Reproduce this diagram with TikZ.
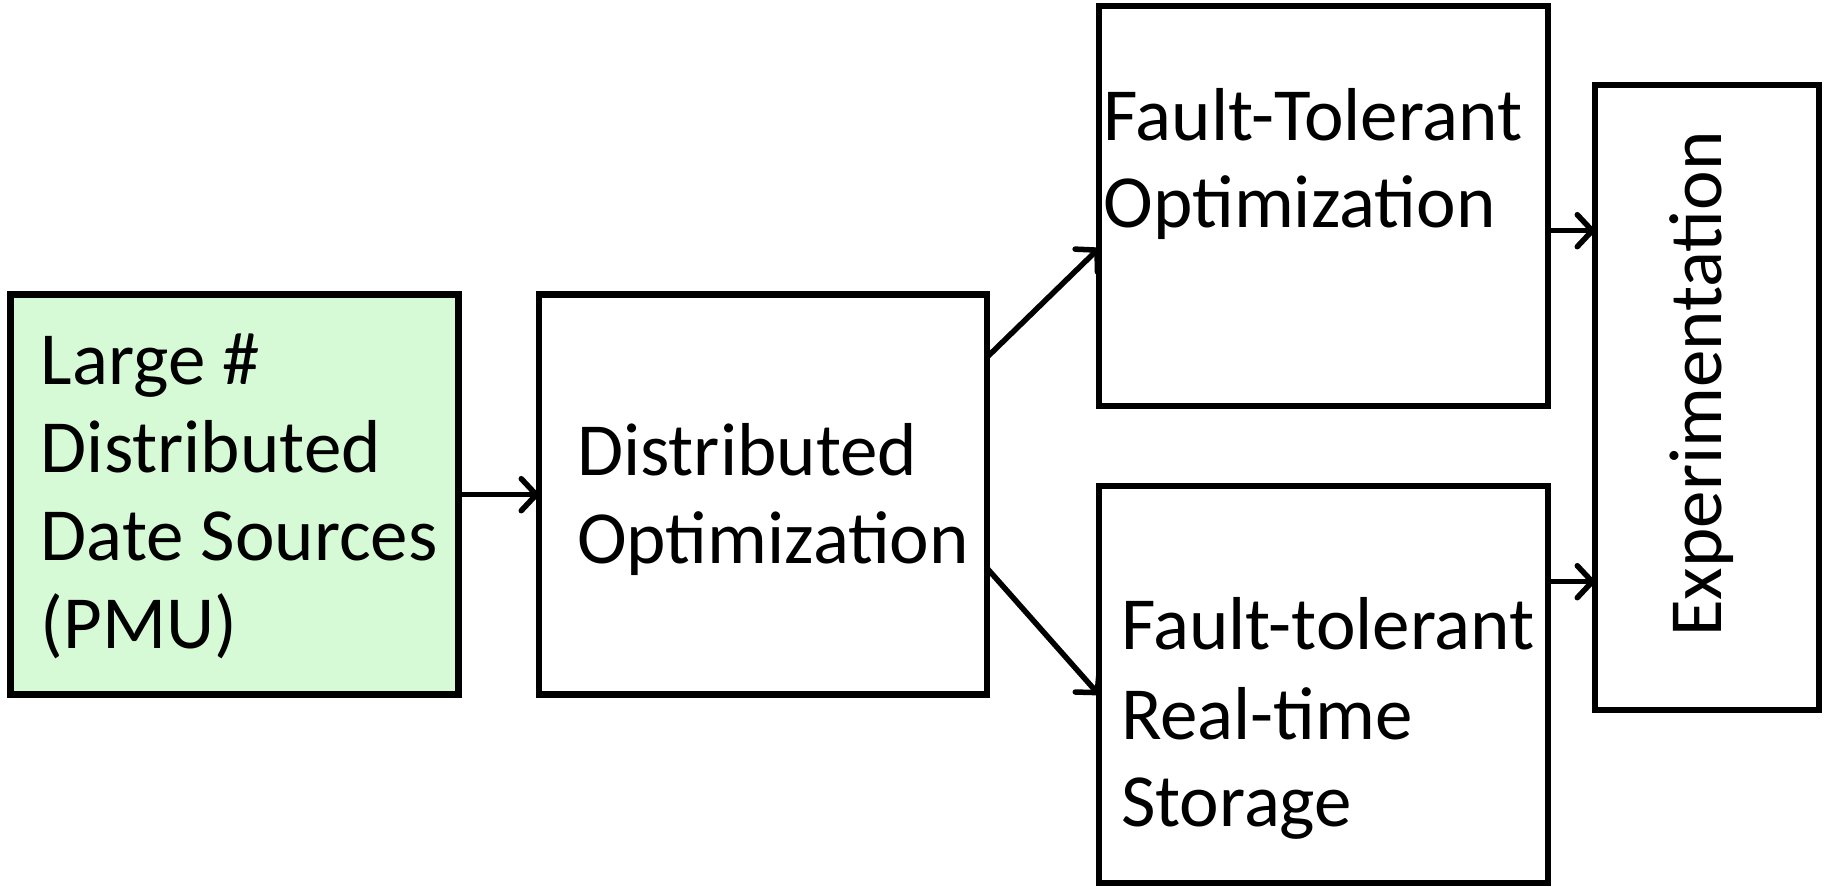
\documentclass[tikz,border=0pt]{standalone}
\usepackage{fontspec}
\setmainfont{Carlito}
\usetikzlibrary{arrows.meta,calc}
\definecolor{srcgreen}{RGB}{214,250,214}
\tikzset{
  box/.style={draw=black, line width=6.5pt, rectangle, inner sep=0pt, outer sep=0pt},
  txt/.style={anchor=base west, inner sep=0pt, outer sep=0pt, font=\fontsize{75}{89}\selectfont},
  conn/.style={line width=5.5pt, line cap=round, -{Straight Barb[length=15pt,width=32pt,round]}}
}
\begin{document}
\begin{tikzpicture}[x=1pt,y=-1pt]
\useasboundingbox (0,0) rectangle (1825,886);
\fill[white] (0,0) rectangle (1825,886);
% boxes
\node[box, fill=srcgreen, minimum width=448pt, minimum height=400pt] (src) at (234.5,494.7) {};
\node[box, minimum width=448pt, minimum height=400pt] (dist) at (763,494.7) {};
\node[box, minimum width=449pt, minimum height=400pt] (fto) at (1323.5,206) {};
\node[box, minimum width=449pt, minimum height=397pt] (fts) at (1323.5,684.7) {};
\node[box, minimum width=224pt, minimum height=625pt] (exp) at (1707,397.5) {};
% texts
\node[txt] (s1) at (40.7,384) {Large \#};
\node[txt] (s2) at (40.7,472) {Distributed};
\node[txt] (s3) at (40.7,560) {Date Sources};
\node[txt] (s4) at (40.7,648) {(PMU)};
\node[txt] (d1) at (577,475) {Distributed};
\node[txt] (d2) at (577,563) {Optimization};
\node[txt] (f1) at (1103.5,140) {Fault-Tolerant};
\node[txt] (f2) at (1103.5,227) {Optimization};
\node[txt] (t1) at (1121,649.5) {Fault-tolerant};
\node[txt] (t2) at (1121,739) {Real-time};
\node[txt] (t3) at (1121,826) {Storage};
\node[inner sep=0pt, rotate=90, font=\fontsize{75}{89}\selectfont] (e1) at (1702,384) {Experimentation};
% connectors
\coordinate (dUp) at ($(dist.north east)+(0,62.5)$);
\coordinate (dDn) at ($(dist.north east)+(0,273.5)$);
\coordinate (fIn) at ($(fto.north west)+(0,242.2)$);
\coordinate (tIn) at ($(fts.north west)+(0,208.5)$);
\coordinate (fOut) at ($(fto.north east)+(0,224.7)$);
\coordinate (tOut) at ($(fts.north east)+(0,95.5)$);
\draw[conn] (src.east) -- (dist.west);
\draw[conn] (dUp) -- (fIn);
\draw[conn] (dDn) -- (tIn);
\draw[conn] (fOut) -- (exp.west |- fOut);
\draw[conn] (tOut) -- (exp.west |- tOut);
\end{tikzpicture}
\end{document}
